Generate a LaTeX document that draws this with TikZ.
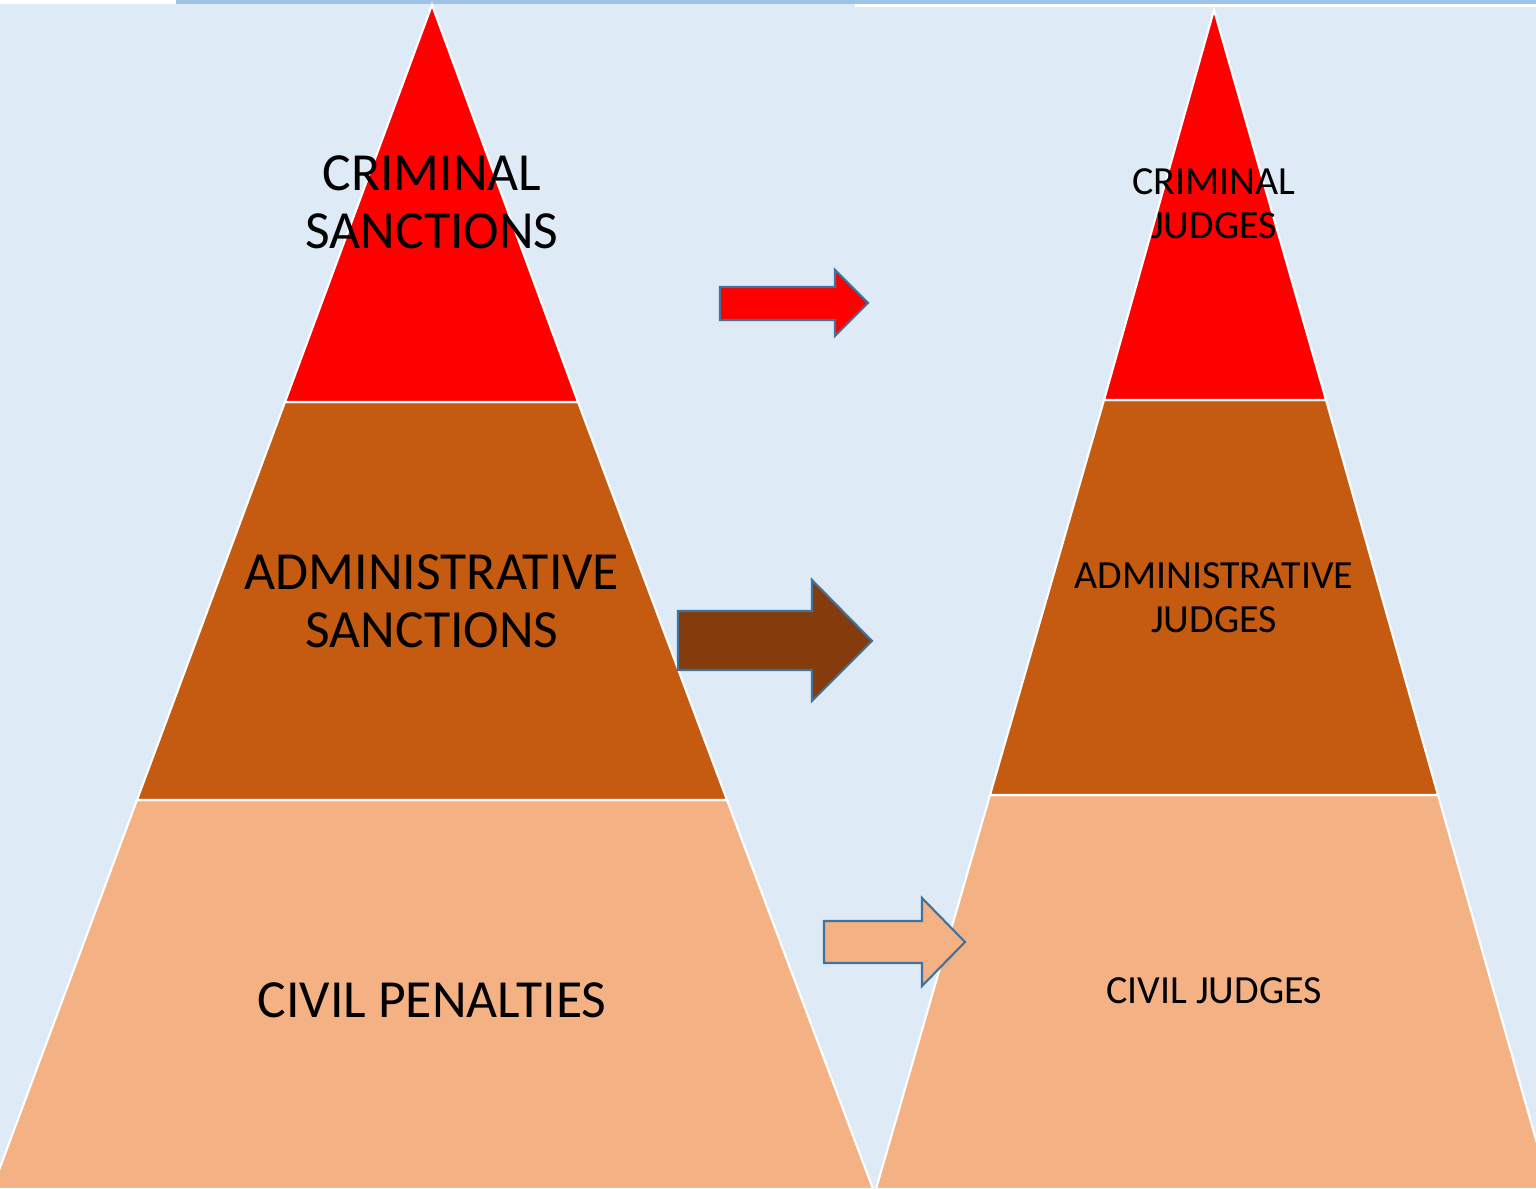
\documentclass[tikz,border=0pt]{standalone}
\usepackage{fontspec}
\setmainfont{Carlito}
\usepackage{tikz}

\definecolor{skyback}{HTML}{DEEBF7}
\definecolor{topband}{HTML}{9DC3E6}
\definecolor{crimred}{HTML}{FF0000}
\definecolor{adminbrown}{HTML}{C55A11}
\definecolor{civilpeach}{HTML}{F4B183}
\definecolor{darkbrown}{HTML}{843C0C}
\definecolor{arrowedge}{HTML}{41719C}

\tikzset{
  layer/.style={draw=white,line width=0.6pt,line join=miter},
  blockarrow/.style={draw=arrowedge,line width=0.6pt,line join=miter},
  bigtxt/.style={align=center,font=\fontsize{15.25}{16.5}\selectfont,inner sep=0pt},
  smalltxt/.style={align=center,font=\fontsize{11.35}{12.5}\selectfont,inner sep=0pt}
}

\begin{document}
\begin{tikzpicture}[x=0.01cm,y=-0.01cm]
 \useasboundingbox (0,0) rectangle (1536,1189);
 \fill[skyback] (0,0) rectangle (1536,1189);
 \fill[topband] (176,0) rectangle (1536,4);
 \fill[white] (0,0) rectangle (176,4);
 \fill[white] (855,4) rectangle (1536,7);
 \begin{scope}
  \clip (0,0) rectangle (1536,1189);
  % left pyramid
  \coordinate (lapex) at (432,5);
  \coordinate (lup-l) at (285,402);
  \coordinate (lup-r) at (578,402);
  \coordinate (llow-l) at (137,800);
  \coordinate (llow-r) at (727,800);
  \coordinate (lbase-l) at (-8,1189);
  \coordinate (lbase-r) at (873,1189);
  \filldraw[layer,fill=civilpeach] (llow-l) -- (llow-r) -- (lbase-r) -- (lbase-l) -- cycle;
  \filldraw[layer,fill=adminbrown] (lup-l) -- (lup-r) -- (llow-r) -- (llow-l) -- cycle;
  \filldraw[layer,fill=crimred] (lapex) -- (lup-r) -- (lup-l) -- cycle;
  % right pyramid
  \coordinate (rapex) at (1214,10);
  \coordinate (rup-l) at (1104,400);
  \coordinate (rup-r) at (1326,400);
  \coordinate (rlow-l) at (990,795);
  \coordinate (rlow-r) at (1438,795);
  \coordinate (rbase-l) at (876,1189);
  \coordinate (rbase-r) at (1550,1189);
  \filldraw[layer,fill=civilpeach] (rlow-l) -- (rlow-r) -- (rbase-r) -- (rbase-l) -- cycle;
  \filldraw[layer,fill=adminbrown] (rup-l) -- (rup-r) -- (rlow-r) -- (rlow-l) -- cycle;
  \filldraw[layer,fill=crimred] (rapex) -- (rup-r) -- (rup-l) -- cycle;
 \end{scope}
 % arrows
 \filldraw[blockarrow,fill=crimred] (720,287) -- (835,287) -- (835,270) -- (868,303)
   -- (835,336) -- (835,320) -- (720,320) -- cycle;
 \filldraw[blockarrow,fill=darkbrown] (678,611) -- (812,611) -- (812,580) -- (872,641)
   -- (812,701) -- (812,670) -- (678,670) -- cycle;
 \filldraw[blockarrow,fill=civilpeach] (824,921) -- (922,921) -- (922,898) -- (965,942)
   -- (922,986) -- (922,963) -- (824,963) -- cycle;
 % labels
 \node[bigtxt] (crimsanc) at (432,202) {CRIMINAL\\SANCTIONS};
 \node[bigtxt] (adminsanc) at (432,601) {ADMINISTRATIVE\\SANCTIONS};
 \node[bigtxt] (civilpen) at (432,1000) {CIVIL PENALTIES};
 \node[smalltxt] (crimjudge) at (1214,204) {CRIMINAL\\JUDGES};
 \node[smalltxt] (adminjudge) at (1214,598) {ADMINISTRATIVE\\JUDGES};
 \node[smalltxt] (civiljudge) at (1214,991) {CIVIL JUDGES};
\end{tikzpicture}
\end{document}
